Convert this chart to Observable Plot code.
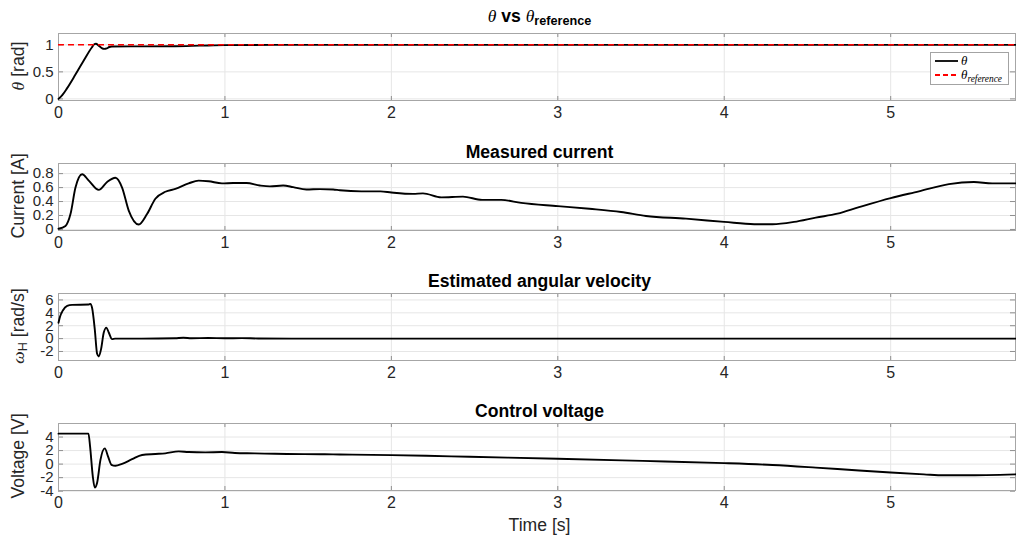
<!DOCTYPE html>
<html>
<head>
<meta charset="utf-8">
<script src="https://cdn.jsdelivr.net/npm/d3@7"></script>
<script src="https://cdn.jsdelivr.net/npm/@observablehq/plot@0.6"></script>
<style>
  html, body { margin: 0; padding: 0; background: #fff; }
  #fig { position: relative; width: 1016px; height: 546px; overflow: hidden;
         font-family: "Liberation Sans", Arial, sans-serif; color: #262626; }
  #fig svg { position: absolute; left: 0; overflow: visible; }
  .title { position: absolute; transform: translate(-50%, -50%); white-space: nowrap;
           font-weight: bold; font-size: 17.6px; color: #000; }
  .ylab { position: absolute; transform: translate(-50%, -50%) rotate(-90deg); white-space: nowrap;
          font-size: 17.6px; }
  .xlab { position: absolute; transform: translate(-50%, -50%); white-space: nowrap; font-size: 17.6px; }
  .tex { font-family: "Liberation Serif", "DejaVu Serif", serif; font-style: italic; font-weight: normal; }
  .legend { position: absolute; background: #fff; border: 1px solid #a3a3a3;
            font-family: "Liberation Serif", "DejaVu Serif", serif; font-style: italic; font-size: 13px; color: #000; }
  .legend .row { display: flex; align-items: center; height: 14px; }
  .legend svg { position: static !important; margin: 0 3px 0 4px; }
  sub { font-size: 0.72em; vertical-align: -0.3em; line-height: 0; }
</style>
</head>
<body>
<div id="fig"></div>
<script>
// Time axis shared by all four panels
const xDomain = [0, 5.75];
const xTicks = [0, 1, 2, 3, 4, 5];

// Joint angle θ [rad] and its set-point
const thetaTime = [0, 0.025, 0.05, 0.1, 0.15, 0.2, 0.215, 0.225, 0.24, 0.26, 0.275, 0.29, 0.305, 0.32, 0.5, 0.7, 0.85, 1.0, 1.3, 2, 3, 4, 5, 5.75];
const theta     = [0, 0.08, 0.19, 0.44, 0.7, 0.95, 1.01, 1.02, 0.99, 0.94, 0.925, 0.935, 0.96, 0.97, 0.972, 0.975, 0.985, 0.995, 1.0, 1.0, 1.0, 1.0, 1.0, 1.0];
const thetaReference = 1;

// Measured motor current [A]
const currentTime = [0, 0.042, 0.072, 0.102, 0.142, 0.182, 0.242, 0.292, 0.342, 0.382, 0.422, 0.482, 0.532, 0.582, 0.642, 0.702, 0.782, 0.842, 0.902, 0.982, 1.05, 1.13, 1.21, 1.27, 1.35, 1.41, 1.49, 1.57, 1.65, 1.69, 1.82, 1.935, 2.0, 2.13, 2.19, 2.3, 2.43, 2.545, 2.66, 2.78, 3.0, 3.19, 3.38, 3.53, 3.77, 4.0, 4.18, 4.29, 4.42, 4.55, 4.68, 4.81, 5.0, 5.17, 5.35, 5.5, 5.61, 5.75];
const current     = [0.01, 0.05, 0.22, 0.6, 0.79, 0.70, 0.567, 0.68, 0.74, 0.6, 0.27, 0.07, 0.22, 0.44, 0.54, 0.58, 0.66, 0.70, 0.69, 0.66, 0.665, 0.665, 0.63, 0.617, 0.63, 0.607, 0.573, 0.578, 0.573, 0.562, 0.546, 0.546, 0.53, 0.51, 0.517, 0.46, 0.47, 0.424, 0.424, 0.38, 0.334, 0.296, 0.25, 0.193, 0.155, 0.108, 0.075, 0.075, 0.108, 0.17, 0.226, 0.32, 0.45, 0.546, 0.65, 0.68, 0.66, 0.66];

// Estimated angular velocity ω_H [rad/s]
const omegaTime = [0, 0.01, 0.026, 0.052, 0.082, 0.182, 0.192, 0.202, 0.218, 0.232, 0.242, 0.256, 0.272, 0.288, 0.302, 0.322, 0.34, 0.5, 0.7, 0.75, 0.8, 0.9, 1.0, 1.1, 1.2, 1.4, 2, 3, 4, 5, 5.75];
const omega     = [2.46, 3.46, 4.37, 5.09, 5.24, 5.29, 5.39, 4.74, 1.44, -2.36, -2.77, -1.6, 0.94, 1.7, 0.94, -0.08, 0, 0, 0.05, 0.12, 0.05, 0.1, 0.05, 0.08, 0.02, 0, 0, 0, 0, 0, 0];

// Control voltage [V]
const voltageTime = [0, 0.18, 0.19, 0.206, 0.218, 0.232, 0.252, 0.278, 0.298, 0.318, 0.342, 0.382, 0.442, 0.502, 0.582, 0.642, 0.722, 0.782, 0.882, 0.982, 1.06, 1.18, 1.3, 1.6, 1.69, 2.0, 2.21, 2.47, 3.0, 3.51, 4.0, 4.29, 4.55, 4.81, 5.0, 5.2, 5.32, 5.45, 5.75];
const voltage     = [4.5, 4.5, 2.55, -1.8, -3.48, -2.75, 0.62, 2.32, 1.1, -0.1, -0.25, 0.04, 0.72, 1.35, 1.49, 1.59, 1.88, 1.78, 1.74, 1.78, 1.64, 1.59, 1.52, 1.45, 1.42, 1.32, 1.23, 1.08, 0.8, 0.47, 0.14, -0.14, -0.52, -0.94, -1.23, -1.51, -1.65, -1.65, -1.51];

const zip = (ts, vs) => ts.map((t, i) => ({t, v: vs[i]}));

const W = 1016, mL = 58, mR = 1, mT = 33, frameH = 67, frameW = W - mL - mR;
const fig = document.getElementById("fig");

function panel({top, marginBottom = 30, yDomain, yTicks, marks}) {
  const chart = Plot.plot({
    width: W,
    height: mT + frameH + marginBottom,
    marginLeft: mL, marginRight: mR, marginTop: mT, marginBottom,
    style: {fontSize: "16px", fontFamily: "'Liberation Sans', Arial, sans-serif", color: "#262626", background: "transparent"},
    x: {domain: xDomain},
    y: {domain: yDomain},
    marks: [
      Plot.gridX(xTicks, {stroke: "#e6e6e6", strokeOpacity: 1}),
      Plot.gridY(yTicks, {stroke: "#e6e6e6", strokeOpacity: 1}),
      Plot.tickX(xTicks, {stroke: "#8f8f8f", insetTop: frameH - 4}),
      Plot.tickX(xTicks, {stroke: "#8f8f8f", insetBottom: frameH - 4}),
      Plot.tickY(yTicks, {stroke: "#8f8f8f", insetRight: frameW - 5}),
      Plot.tickY(yTicks, {stroke: "#8f8f8f", insetLeft: frameW - 5}),
      Plot.frame({stroke: "#a6a6a6"}),
      Plot.axisX(xTicks, {tickSize: 0, tickPadding: 6, label: null, tickFormat: d => String(d)}),
      Plot.axisY(yTicks, {tickSize: 0, tickPadding: 5, label: null, fontSize: 15, tickFormat: d => String(d)}),
      ...marks
    ]
  });
  chart.style.top = top + "px";
  fig.appendChild(chart);
}

function html(cls, x, y, content) {
  const d = document.createElement("div");
  d.className = cls;
  d.style.left = x + "px";
  d.style.top = y + "px";
  d.innerHTML = content;
  fig.appendChild(d);
  return d;
}

const line = {x: "t", y: "v", stroke: "#000", strokeWidth: 1.9, curve: "monotone-x"};

// θ versus reference
panel({
  top: 0,
  yDomain: [-0.03, 1.21],
  yTicks: [0, 0.5, 1],
  marks: [
    Plot.line(zip(thetaTime, theta), line),
    Plot.ruleY([thetaReference], {stroke: "#ff0000", strokeWidth: 1.5, strokeDasharray: "6,4"})
  ]
});

// Measured current
panel({
  top: 130,
  yDomain: [-0.015, 0.945],
  yTicks: [0, 0.2, 0.4, 0.6, 0.8],
  marks: [Plot.line(zip(currentTime, current), line)]
});

// Estimated angular velocity
panel({
  top: 260,
  yDomain: [-3.4, 7],
  yTicks: [-2, 0, 2, 4, 6],
  marks: [Plot.line(zip(omegaTime, omega), line)]
});

// Control voltage
panel({
  top: 390,
  marginBottom: 56,
  yDomain: [-3.9, 6],
  yTicks: [-4, -2, 0, 2, 4],
  marks: [Plot.line(zip(voltageTime, voltage), line)]
});

const cx = mL + frameW / 2 + 3;

// Panel titles
html("title", cx, 16, '<span class="tex">θ</span> vs <span class="tex">θ</span><sub>reference</sub>');
html("title", cx, 152, "Measured current");
html("title", cx, 281, "Estimated angular velocity");
html("title", cx, 411, "Control voltage");

// Axis labels
html("ylab", 18, 66, '<span class="tex">θ</span> [rad]');
html("ylab", 18, 196, "Current [A]");
html("ylab", 18, 326, '<span class="tex">ω</span><sub>H</sub> [rad/s]');
html("ylab", 18, 456, "Voltage [V]");
html("xlab", cx, 525, "Time [s]");

// Legend for the first panel
const legend = html("legend", 930, 52, "");
legend.style.width = "77px";
legend.style.height = "30px";
legend.style.paddingTop = "1px";
const entries = [
  {name: "θ", stroke: "#000", dash: null},
  {name: "θ<sub>reference</sub>", stroke: "#ff0000", dash: "5,3"}
];
for (const e of entries) {
  const row = document.createElement("div");
  row.className = "row";
  row.innerHTML = `<svg width="23" height="6"><line x1="0" x2="23" y1="3" y2="3" stroke="${e.stroke}" stroke-width="1.8" ${e.dash ? `stroke-dasharray="${e.dash}"` : ""}/></svg><span>${e.name}</span>`;
  legend.appendChild(row);
}
</script>
</body>
</html>
